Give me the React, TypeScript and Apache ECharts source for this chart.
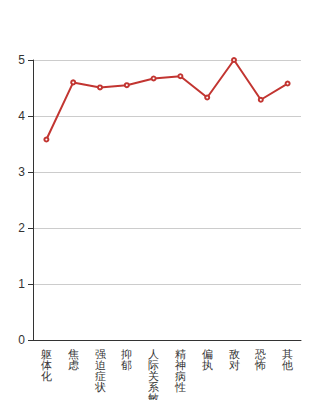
import React, { useEffect, useRef } from "react";
import * as echarts from "echarts";

const categories = ["躯体化", "焦虑", "强迫症状", "抑郁", "人际关系敏感", "精神病性", "偏执", "敌对", "恐怖", "其他"];
const values = [3.58, 4.6, 4.51, 4.55, 4.67, 4.71, 4.33, 5.0, 4.29, 4.58];
const yTicks = [0, 1, 2, 3, 4, 5];

export default function App() {
  const ref = useRef<HTMLDivElement>(null);
  useEffect(() => {
    if (!ref.current) return;
    const chart = echarts.init(ref.current, null, { renderer: "svg" });
    chart.setOption({
      animation: false,
      grid: { left: 33, right: 33, top: 60, bottom: 60, containLabel: false, outerBoundsMode: "none" },
      xAxis: {
        type: "category",
        data: categories,
        boundaryGap: true,
        axisLine: { lineStyle: { color: "#333" } },
        axisTick: { length: 5, lineStyle: { color: "#333" } },
        axisLabel: {
          interval: 0,
          color: "#333",
          fontSize: 11,
          lineHeight: 11,
          margin: 8,
          formatter: (v: string) => v.split("").join("\n"),
        },
      },
      yAxis: {
        type: "value",
        min: yTicks[0],
        max: yTicks[yTicks.length - 1],
        interval: 1,
        axisLine: { show: true, lineStyle: { color: "#333" } },
        axisTick: { show: true, length: 5, lineStyle: { color: "#333" } },
        axisLabel: { color: "#333", fontSize: 12, margin: 8 },
        splitLine: { lineStyle: { color: "#ccc" } },
      },
      series: [
        {
          type: "line",
          data: values,
          symbol: "emptyCircle",
          symbolSize: 4,
          lineStyle: { color: "#c23531", width: 2 },
          itemStyle: { color: "#c23531" },
        },
      ],
    });
    return () => chart.dispose();
  }, []);
  return <div ref={ref} style={{ width: 334, height: 400, position: "absolute", left: 0, top: 0 }} />;
}
